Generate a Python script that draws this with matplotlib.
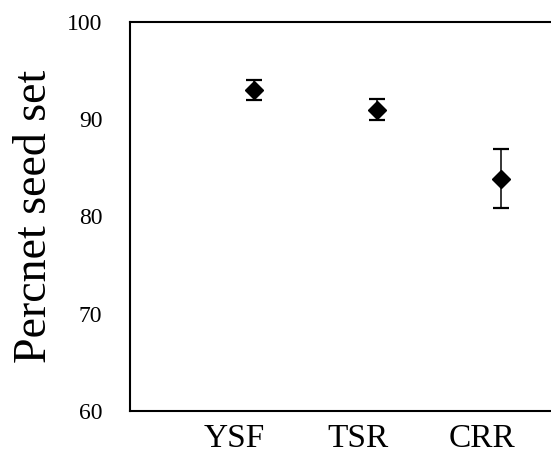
# -*- coding: utf-8 -*-
"""
Percent seed set per population (mean +/- error)
"""

import numpy as np
import matplotlib.pyplot as plt
from matplotlib.transforms import ScaledTranslation

plt.rcParams['font.family'] = 'Liberation Serif'

# data
sites = ['YSF', 'TSR', 'CRR']
seed_set = [93.0, 91.0, 83.9]
seed_err = [1.0, 1.1, 3.0]
yticks = [60, 70, 80, 90, 100]

xpos = np.arange(1, len(sites) + 1)

fig = plt.figure(figsize=(5.51, 4.57), dpi=100)
ax = fig.add_axes([0.236, 0.1007, 0.897, 0.8512])

ax.errorbar(xpos, seed_set, yerr=seed_err,
            color='k', linestyle='',
            marker='D', markersize=9.5,
            elinewidth=1.1, capsize=5.5, capthick=1.6)

ax.set_xlim(0, 4)
ax.set_ylim(60, 100)
ax.set_yticks(yticks)
ax.set_xticks(xpos)
ax.set_xticklabels(sites)
ax.tick_params(axis='both', length=0)
ax.tick_params(axis='y', labelsize=17, pad=20)
ax.tick_params(axis='x', labelsize=24, pad=9)

# category labels sit a little left of the points
for lab in ax.get_xticklabels():
    lab.set_transform(lab.get_transform() +
                      ScaledTranslation(-19 / 100, 0, fig.dpi_scale_trans))

for sp in ax.spines.values():
    sp.set_linewidth(1.5)

ax.set_ylabel('Percnet seed set', fontsize=33, labelpad=8)

plt.savefig('out.png', dpi=100)
